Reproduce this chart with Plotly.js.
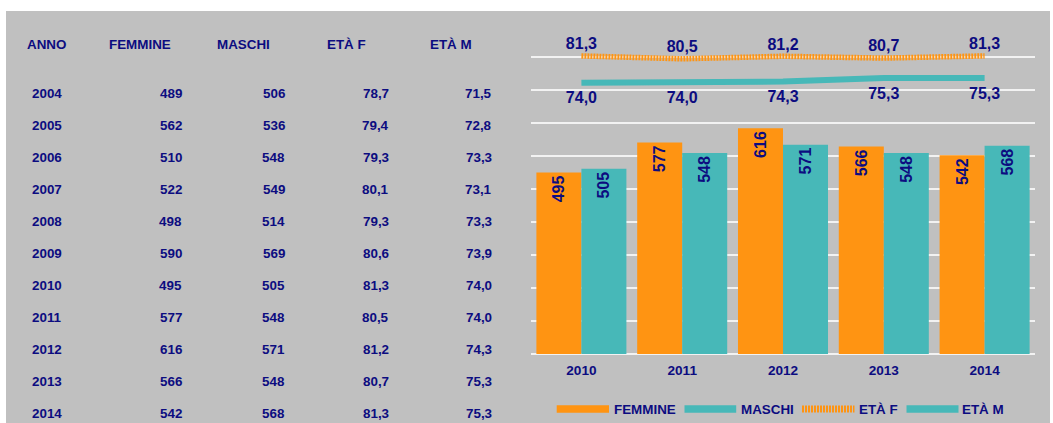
<!DOCTYPE html>
<html>
<head>
<meta charset="utf-8">
<script src="https://cdn.plot.ly/plotly-3.0.1.min.js"></script>
<style>html,body{margin:0;padding:0;background:#fff;}#chart{width:1053px;height:423px;}</style>
</head>
<body>
<div id="chart"></div>
<script>
// ---- data ----
const anni    = ['2004','2005','2006','2007','2008','2009','2010','2011','2012','2013','2014'];
const femmine = [489, 562, 510, 522, 498, 590, 495, 577, 616, 566, 542];
const maschi  = [506, 536, 548, 549, 514, 569, 505, 548, 571, 548, 568];
const etaF    = [78.7, 79.4, 79.3, 80.1, 79.3, 80.6, 81.3, 80.5, 81.2, 80.7, 81.3];
const etaM    = [71.5, 72.8, 73.3, 73.1, 73.3, 73.9, 74.0, 74.0, 74.3, 75.3, 75.3];
const headers = ['ANNO', 'FEMMINE', 'MASCHI', 'ETÀ F', 'ETÀ M'];
const seriesNames = ['FEMMINE', 'MASCHI', 'ETÀ F', 'ETÀ M'];
const chartFrom = 6; // the chart shows 2010–2014

// ---- styling ----
const W = 1053, H = 423;
const NAVY = '#0c0c80', GRAY = '#c0c0c0', ORANGE = '#ff9412', TEAL = '#47b8b8';
const FONT = 'Liberation Sans, Arial, sans-serif';
const px = v => v / W, py = v => 1 - v / H;
const fmt = v => v.toFixed(1).replace('.', ',');

const xs = anni.slice(chartFrom);
const labelFont = {family:FONT, size:16, color:NAVY, weight:'bold'};
const traces = [
  {type:'bar', name:seriesNames[0], x:xs, y:femmine.slice(chartFrom), marker:{color:ORANGE},
   text:femmine.slice(chartFrom).map(String), textposition:'inside', insidetextanchor:'end', textangle:-90,
   textfont:labelFont, showlegend:false, hoverinfo:'x+y'},
  {type:'bar', name:seriesNames[1], x:xs, y:maschi.slice(chartFrom), marker:{color:TEAL},
   text:maschi.slice(chartFrom).map(String), textposition:'inside', insidetextanchor:'end', textangle:-90,
   textfont:labelFont, showlegend:false, hoverinfo:'x+y'},
  {type:'scatter', name:seriesNames[2], x:xs, y:etaF.slice(chartFrom), yaxis:'y2', mode:'lines+markers+text',
   line:{color:ORANGE, width:5.5, dash:'2px,1px'}, marker:{size:2.6, opacity:0, color:ORANGE},
   text:etaF.slice(chartFrom).map(fmt), textposition:'top center', textfont:labelFont,
   cliponaxis:false, showlegend:false},
  {type:'scatter', name:seriesNames[3], x:xs, y:etaM.slice(chartFrom), yaxis:'y2', mode:'lines+markers+text',
   line:{color:TEAL, width:6}, marker:{size:12.4, opacity:0, color:TEAL},
   text:etaM.slice(chartFrom).map(fmt), textposition:'bottom center', textfont:labelFont,
   cliponaxis:false, showlegend:false}
];

// ---- table (annotations) ----
const annotations = [];
const colHeadX = [46.7, 107.5, 215.7, 326, 428.7];
const colHeadAnchor = ['center','left','left','left','left'];
const colValX = [47, 182.6, 286, 390, 493];
const colValAnchor = ['center','right','right','right','right'];
const tfont = {family:FONT, size:13.4, color:NAVY};
headers.forEach((h, i) => annotations.push({xref:'paper', yref:'paper', x:px(colHeadX[i]), y:py(44),
  xanchor:colHeadAnchor[i], yanchor:'middle', text:'<b>'+h+'</b>', showarrow:false, font:tfont, borderpad:0}));
anni.forEach((a, r) => {
  const yy = py(93.5 + r * 31.95);
  const vals = [a, String(femmine[r]), String(maschi[r]), fmt(etaF[r]), fmt(etaM[r])];
  vals.forEach((v, i) => annotations.push({xref:'paper', yref:'paper', x:px(colValX[i]), y:yy,
    xanchor:colValAnchor[i], yanchor:'middle', text:'<b>'+v+'</b>', showarrow:false, font:tfont, borderpad:0}));
});

// ---- legend (manual) ----
const shapes = [
  {type:'rect', xref:'paper', yref:'paper', x0:px(6), x1:px(1050), y0:0, y1:py(11),
   fillcolor:GRAY, line:{width:0}, layer:'below'}
];
const legItems = [
  {x0:556.7, x1:609, tx:612.5, kind:'rect', color:ORANGE},
  {x0:684.5, x1:736.2, tx:739.6, kind:'rect', color:TEAL},
  {x0:802, x1:854.5, tx:857.9, kind:'dash', color:ORANGE},
  {x0:906.5, x1:958.5, tx:961.2, kind:'rect', color:TEAL}
];
const LY = 409;
legItems.forEach((it, i) => {
  if (it.kind === 'rect') {
    shapes.push({type:'rect', xref:'paper', yref:'paper', x0:px(it.x0), x1:px(it.x1), y0:py(LY+3.7), y1:py(LY-3.7),
      fillcolor:it.color, line:{width:0}});
  } else {
    shapes.push({type:'line', xref:'paper', yref:'paper', x0:px(it.x0), x1:px(it.x1), y0:py(LY), y1:py(LY),
      line:{color:it.color, width:7, dash:'2px,1px'}});
  }
  annotations.push({xref:'paper', yref:'paper', x:px(it.tx), y:py(LY), xanchor:'left', yanchor:'middle',
    text:'<b>'+seriesNames[i]+'</b>', showarrow:false, font:tfont, borderpad:0});
});

const layout = {
  width:W, height:H, autosize:false,
  margin:{l:0, r:0, t:0, b:0, pad:0},
  paper_bgcolor:'#ffffff', plot_bgcolor:'rgba(0,0,0,0)',
  font:{family:FONT, color:NAVY},
  barmode:'group', bargap:0.107, bargroupgap:0,
  showlegend:false,
  xaxis:{domain:[px(531), px(1035)], type:'category', showgrid:false, zeroline:false, showline:false,
    tickvals:xs, ticktext:xs.map(a => '<b>'+a+'</b>'), ticklabelstandoff:6,
    ticks:'', tickfont:{family:FONT, size:13.6, color:NAVY}, fixedrange:true},
  yaxis:{domain:[py(354), py(24)], range:[0, 900], dtick:90, showticklabels:false, ticks:'',
    gridcolor:'#f2f2f2', gridwidth:1.2, zeroline:true, zerolinecolor:'#f2f2f2', zerolinewidth:1.5, showline:false, fixedrange:true},
  yaxis2:{domain:[py(354), py(24)], overlaying:'y', range:[0, 90], showgrid:false, zeroline:false,
    showticklabels:false, ticks:'', showline:false, fixedrange:true},
  shapes:shapes,
  annotations:annotations
};

Plotly.newPlot('chart', traces, layout, {displayModeBar:false, staticPlot:true});
</script>
</body>
</html>
